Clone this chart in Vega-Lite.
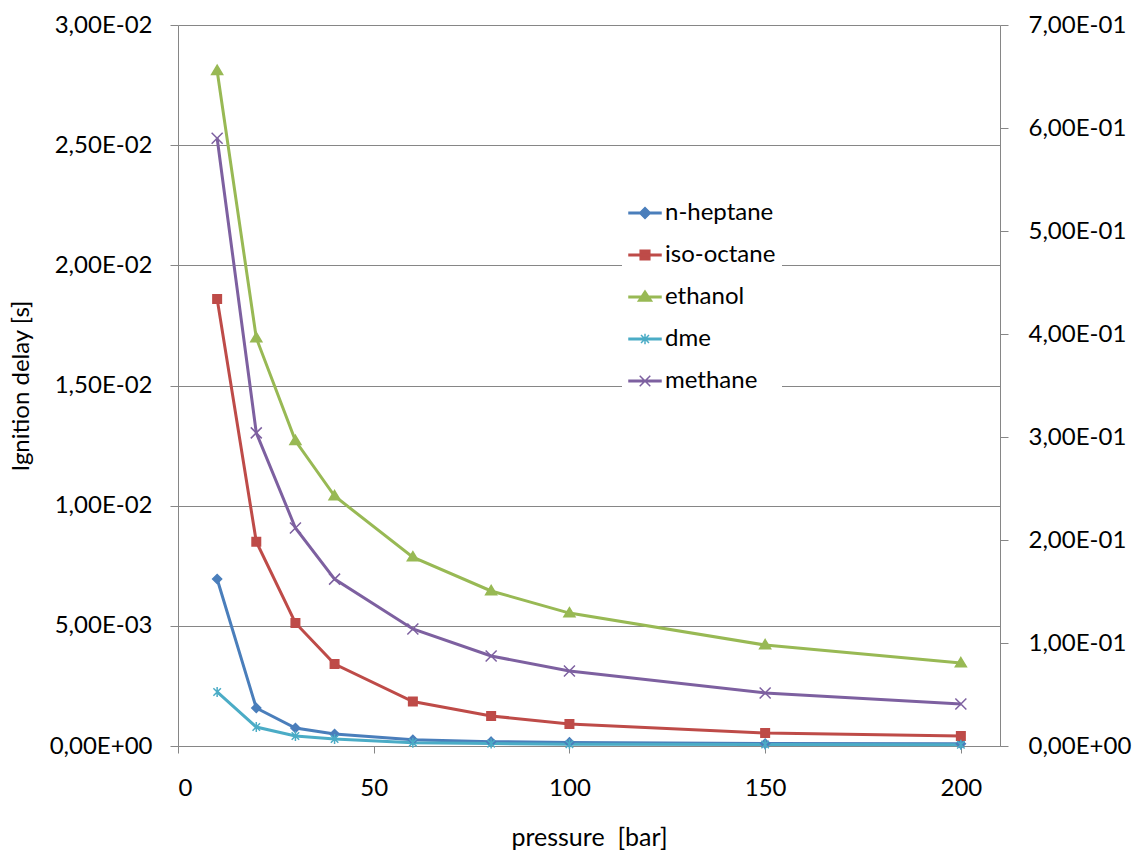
{
  "$schema": "https://vega.github.io/schema/vega-lite/v6.json",
  "width": 822,
  "height": 721,
  "autosize": "none",
  "padding": {"left": 178, "top": 25, "right": 141, "bottom": 104},
  "background": "white",
  "config": {
    "font": "Lato",
    "view": {"stroke": null},
    "axis": {
      "labelFont": "Lato", "titleFont": "Lato", "labelColor": "black", "titleColor": "black",
      "labelFontSize": 24, "titleFontSize": 24, "titleFontWeight": "normal",
      "domainColor": "#868686", "tickColor": "#868686", "gridColor": "#868686",
      "domainWidth": 1, "tickWidth": 1, "gridWidth": 1
    },
    "legend": {"labelFont": "Lato", "labelColor": "black"}
  },
  "datasets": {
    "d": [
      {"pressure": 10, "fuel": "n-heptane", "delay": 0.00695},
      {"pressure": 20, "fuel": "n-heptane", "delay": 0.00158},
      {"pressure": 30, "fuel": "n-heptane", "delay": 0.00075},
      {"pressure": 40, "fuel": "n-heptane", "delay": 0.0005},
      {"pressure": 60, "fuel": "n-heptane", "delay": 0.00026},
      {"pressure": 80, "fuel": "n-heptane", "delay": 0.00018},
      {"pressure": 100, "fuel": "n-heptane", "delay": 0.00015},
      {"pressure": 150, "fuel": "n-heptane", "delay": 0.0001},
      {"pressure": 200, "fuel": "n-heptane", "delay": 0.00009},
      {"pressure": 10, "fuel": "iso-octane", "delay": 0.0186},
      {"pressure": 20, "fuel": "iso-octane", "delay": 0.0085},
      {"pressure": 30, "fuel": "iso-octane", "delay": 0.00512},
      {"pressure": 40, "fuel": "iso-octane", "delay": 0.00341},
      {"pressure": 60, "fuel": "iso-octane", "delay": 0.00185},
      {"pressure": 80, "fuel": "iso-octane", "delay": 0.00125},
      {"pressure": 100, "fuel": "iso-octane", "delay": 0.00092},
      {"pressure": 150, "fuel": "iso-octane", "delay": 0.00054},
      {"pressure": 200, "fuel": "iso-octane", "delay": 0.00042},
      {"pressure": 10, "fuel": "ethanol", "delay": 0.0281},
      {"pressure": 20, "fuel": "ethanol", "delay": 0.01698},
      {"pressure": 30, "fuel": "ethanol", "delay": 0.0127},
      {"pressure": 40, "fuel": "ethanol", "delay": 0.0104},
      {"pressure": 60, "fuel": "ethanol", "delay": 0.00786},
      {"pressure": 80, "fuel": "ethanol", "delay": 0.00645},
      {"pressure": 100, "fuel": "ethanol", "delay": 0.00553},
      {"pressure": 150, "fuel": "ethanol", "delay": 0.0042},
      {"pressure": 200, "fuel": "ethanol", "delay": 0.00345},
      {"pressure": 10, "fuel": "dme", "delay": 0.00225},
      {"pressure": 20, "fuel": "dme", "delay": 0.00079},
      {"pressure": 30, "fuel": "dme", "delay": 0.00042},
      {"pressure": 40, "fuel": "dme", "delay": 0.00029},
      {"pressure": 60, "fuel": "dme", "delay": 0.00014},
      {"pressure": 80, "fuel": "dme", "delay": 0.0001},
      {"pressure": 100, "fuel": "dme", "delay": 0.00007},
      {"pressure": 150, "fuel": "dme", "delay": 0.00006},
      {"pressure": 200, "fuel": "dme", "delay": 0.00005},
      {"pressure": 10, "fuel": "methane", "delay": 0.59},
      {"pressure": 20, "fuel": "methane", "delay": 0.304},
      {"pressure": 30, "fuel": "methane", "delay": 0.2117},
      {"pressure": 40, "fuel": "methane", "delay": 0.162},
      {"pressure": 60, "fuel": "methane", "delay": 0.1136},
      {"pressure": 80, "fuel": "methane", "delay": 0.0874},
      {"pressure": 100, "fuel": "methane", "delay": 0.0728},
      {"pressure": 150, "fuel": "methane", "delay": 0.0515},
      {"pressure": 200, "fuel": "methane", "delay": 0.0408}
    ]
  },
  "data": {"name": "d"},
  "encoding": {
    "x": {
      "field": "pressure", "type": "quantitative",
      "scale": {"domain": [0, 210], "nice": false, "zero": false},
      "axis": {
        "values": [0, 50, 100, 150, 200], "title": "pressure\u00a0 [bar]", "grid": false,
        "tickSize": 7, "labelPadding": 23, "titleY": 99, "titleBaseline": "alphabetic", "titleFontSize": 25
      }
    }
  },
  "layer": [
    {
      "transform": [{"filter": "datum.fuel !== 'methane'"}],
      "encoding": {
        "y": {
          "field": "delay", "type": "quantitative",
          "scale": {"domain": [0, 0.03], "nice": false, "zero": true},
          "axis": {
            "orient": "left", "title": "Ignition delay [s]",
            "values": [0, 0.005, 0.01, 0.015, 0.02, 0.025, 0.03],
            "labelExpr": "replace(replace(replace(format(datum.value, '.2e'), '.', ','), 'e-', 'E-0'), 'e+', 'E+0')",
            "grid": true, "tickSize": 8, "labelPadding": 18,
            "titleX": -150, "titleBaseline": "alphabetic", "titleAngle": -90
          }
        },
        "stroke": {
          "field": "fuel", "type": "nominal", "legend": null,
          "scale": {"domain": ["n-heptane", "iso-octane", "ethanol", "dme", "methane"],
                    "range": ["#4A7EBB", "#BE4B48", "#98B954", "#4BACC6", "#7D60A0"]}
        }
      },
      "layer": [
        {"mark": {"type": "line", "strokeWidth": 3}},
        {
          "mark": {"type": "point", "size": 100, "strokeWidth": 1.5, "opacity": 1},
          "encoding": {
            "fill": {
              "field": "fuel", "type": "nominal", "legend": null,
              "scale": {"domain": ["n-heptane", "iso-octane", "ethanol", "dme", "methane"],
                        "range": ["#4A7EBB", "#BE4B48", "#98B954", "#4BACC6", "#7D60A0"]}
            },
            "shape": {
              "field": "fuel", "type": "nominal", "legend": null,
              "scale": {
                "domain": ["n-heptane", "iso-octane", "ethanol", "dme"],
                "range": [
                  "M0,-0.9L0.9,0L0,0.9L-0.9,0Z",
                  "M-0.85,-0.85L0.85,-0.85L0.85,0.85L-0.85,0.85Z",
                  "M0,-1.1L1.1,0.75L-1.1,0.75Z",
                  "M-0.75,-0.75L0.75,0.75M-0.75,0.75L0.75,-0.75M0,-1L0,1"
                ]
              }
            }
          }
        }
      ]
    },
    {
      "transform": [{"filter": "datum.fuel === 'methane'"}],
      "encoding": {
        "y": {
          "field": "delay", "type": "quantitative",
          "scale": {"domain": [0, 0.7], "nice": false, "zero": true},
          "axis": {
            "orient": "right", "title": null,
            "values": [0, 0.1, 0.2, 0.3, 0.4, 0.5, 0.6, 0.7],
            "labelExpr": "replace(replace(replace(format(datum.value, '.2e'), '.', ','), 'e-', 'E-0'), 'e+', 'E+0')",
            "grid": false, "tickSize": 8, "labelPadding": 20
          }
        },
        "stroke": {
          "field": "fuel", "type": "nominal", "legend": null,
          "scale": {"domain": ["n-heptane", "iso-octane", "ethanol", "dme", "methane"],
                    "range": ["#4A7EBB", "#BE4B48", "#98B954", "#4BACC6", "#7D60A0"]}
        }
      },
      "layer": [
        {"mark": {"type": "line", "strokeWidth": 3}},
        {
          "mark": {"type": "point", "size": 121, "strokeWidth": 1.5, "opacity": 1, "shape": "M-1,-1L1,1M-1,1L1,-1"},
          "encoding": {
            "fill": {
              "field": "fuel", "type": "nominal", "legend": null,
              "scale": {"domain": ["n-heptane", "iso-octane", "ethanol", "dme", "methane"],
                        "range": ["#4A7EBB", "#BE4B48", "#98B954", "#4BACC6", "#7D60A0"]}
            }
          }
        }
      ]
    },
    {
      "transform": [{"filter": "datum.pressure === 10"}],
      "mark": {"type": "point", "opacity": 0},
      "encoding": {
        "y": {"field": "delay", "type": "quantitative", "axis": null},
        "stroke": {
          "field": "fuel", "type": "nominal",
          "scale": {"domain": ["n-heptane", "iso-octane", "ethanol", "dme", "methane"],
                    "range": ["#4A7EBB", "#BE4B48", "#98B954", "#4BACC6", "#7D60A0"]},
          "legend": {
            "title": null, "orient": "none", "legendX": 444, "legendY": 165,
            "symbolSize": 1024, "symbolStrokeWidth": 1.5, "symbolOpacity": 1,
            "labelFontSize": 24, "labelOffset": 3, "rowPadding": 13,
            "fillColor": "white", "padding": 6
          }
        },
        "fill": {
          "field": "fuel", "type": "nominal",
          "scale": {"domain": ["n-heptane", "iso-octane", "ethanol", "dme", "methane"],
                    "range": ["#4A7EBB", "#BE4B48", "#98B954", "#4BACC6", "#7D60A0"]},
          "legend": {
            "title": null, "orient": "none", "legendX": 444, "legendY": 165,
            "symbolSize": 1024, "symbolStrokeWidth": 1.5, "symbolOpacity": 1,
            "labelFontSize": 24, "labelOffset": 3, "rowPadding": 13,
            "fillColor": "white", "padding": 6
          }
        },
        "shape": {
          "field": "fuel", "type": "nominal",
          "scale": {
            "domain": ["n-heptane", "iso-octane", "ethanol", "dme", "methane"],
            "range": [
              "M-1,-0.05L1,-0.05L1,0.05L-1,0.05ZM0,-0.34L0.34,0L0,0.34L-0.34,0Z",
              "M-1,-0.05L1,-0.05L1,0.05L-1,0.05ZM-0.3,-0.3L0.3,-0.3L0.3,0.3L-0.3,0.3Z",
              "M-1,-0.05L1,-0.05L1,0.05L-1,0.05ZM0,-0.38L0.42,0.25L-0.42,0.25Z",
              "M-1,-0.05L1,-0.05L1,0.05L-1,0.05ZM-0.25,-0.25L0.25,0.25M-0.25,0.25L0.25,-0.25M0,-0.33L0,0.33",
              "M-1,-0.05L1,-0.05L1,0.05L-1,0.05ZM-0.33,-0.33L0.33,0.33M-0.33,0.33L0.33,-0.33"
            ]
          },
          "legend": {
            "title": null, "orient": "none", "legendX": 444, "legendY": 165,
            "symbolSize": 1024, "symbolStrokeWidth": 1.5, "symbolOpacity": 1,
            "labelFontSize": 24, "labelOffset": 3, "rowPadding": 13,
            "fillColor": "white", "padding": 6
          }
        }
      }
    }
  ],
  "resolve": {"scale": {"y": "independent", "shape": "independent", "stroke": "independent", "fill": "independent"}}
}
